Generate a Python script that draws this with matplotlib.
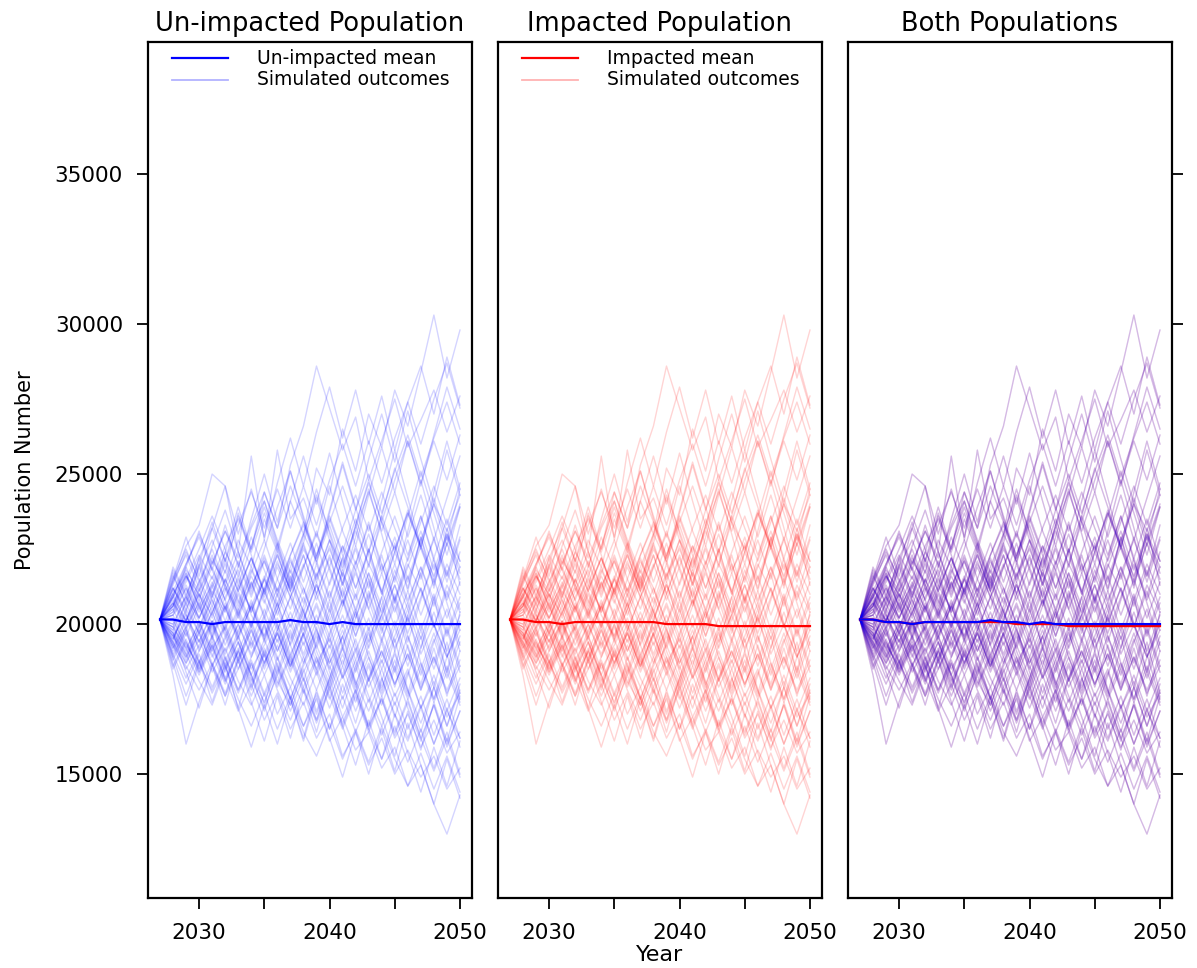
import numpy as np
import matplotlib.pyplot as plt

plt.rcParams['font.family'] = ['DejaVu Sans']

years = np.arange(2027, 2051)

# mean population per year
unimpacted_mean = [20157, 20150, 20067, 20067, 20000, 20067, 20067, 20067, 20067, 20067,
                   20133, 20067, 20067, 20000, 20067, 20000, 20000, 20000, 20000, 20000,
                   20000, 20000, 20000, 20000]
impacted_mean = [20157, 20150, 20067, 20067, 20000, 20067, 20067, 20067, 20067, 20067,
                 20067, 20067, 20000, 20000, 20000, 20000, 19933, 19933, 19933, 19933,
                 19933, 19933, 19933, 19933]

# simulated runs, population in thousands, 2027..2050
runs_k = [
    [20.15, 21.4, 22.6, 23.3, 25.0, 24.6, 22.4, 25.6, 22.8, 25.8, 23.5, 24.2, 22.9, 24.6, 23.1, 22.0, 23.4, 21.8, 22.6, 21.2, 22.9, 21.5, 23.0, 22.1],
    [20.15, 20.9, 21.6, 20.8, 22.1, 21.4, 22.8, 21.9, 23.5, 22.4, 24.1, 23.0, 25.2, 24.3, 26.5, 25.1, 27.0, 25.9, 27.8, 26.6, 28.4, 30.3, 28.2, 29.8],
    [20.15, 21.2, 20.4, 21.9, 22.8, 21.7, 23.6, 22.5, 24.4, 23.2, 25.3, 26.6, 28.6, 27.2, 25.8, 26.9, 24.8, 26.1, 27.5, 25.9, 26.8, 27.8, 26.4, 27.6],
    [20.15, 18.3, 16.0, 17.4, 18.6, 17.6, 18.9, 17.8, 19.2, 18.1, 17.3, 18.5, 17.1, 18.2, 16.9, 17.8, 16.6, 17.5, 16.2, 17.0, 15.9, 16.8, 15.7, 16.4],
    [20.15, 19.4, 18.7, 19.5, 18.4, 19.2, 18.1, 17.3, 18.3, 17.0, 17.9, 16.6, 17.5, 16.1, 16.9, 15.8, 16.4, 15.2, 15.9, 14.6, 15.3, 14.0, 13.0, 14.3],
    [20.15, 19.0, 19.8, 18.5, 19.4, 18.2, 17.1, 18.0, 16.8, 17.7, 16.5, 17.4, 16.2, 17.0, 15.6, 16.4, 15.3, 16.2, 15.0, 15.8, 14.9, 15.6, 14.5, 15.2],
    [20.15, 20.8, 19.9, 21.0, 20.3, 21.5, 20.6, 21.8, 20.9, 22.0, 21.2, 22.5, 21.6, 22.8, 21.9, 23.1, 22.0, 23.4, 22.5, 23.7, 22.6, 24.0, 23.1, 24.3],
    [20.15, 19.5, 20.4, 19.1, 20.0, 18.8, 19.6, 18.5, 19.3, 20.2, 19.0, 19.9, 18.7, 19.5, 18.2, 19.1, 17.9, 18.8, 17.6, 18.5, 17.2, 18.1, 16.9, 17.7],
    [20.15, 21.0, 21.8, 21.1, 22.2, 21.3, 20.5, 21.6, 20.7, 21.9, 20.9, 20.1, 21.3, 20.4, 21.7, 20.8, 22.0, 21.1, 22.4, 21.4, 22.6, 21.6, 22.9, 21.9],
    [20.15, 19.8, 18.9, 19.7, 18.6, 19.5, 20.4, 19.3, 20.3, 19.1, 20.0, 18.9, 19.8, 18.7, 19.6, 20.5, 19.4, 20.3, 19.2, 20.2, 19.0, 20.0, 18.9, 19.8],
    [20.15, 20.6, 21.4, 22.3, 21.5, 22.6, 23.5, 22.4, 23.7, 22.5, 21.4, 22.6, 21.5, 22.8, 21.6, 20.5, 21.7, 20.6, 21.8, 20.7, 21.9, 20.8, 22.0, 21.0],
    [20.15, 19.3, 18.6, 17.8, 18.7, 17.6, 18.5, 19.4, 18.3, 19.3, 18.2, 17.3, 18.4, 17.2, 18.3, 17.1, 18.2, 19.1, 18.0, 19.0, 17.8, 18.9, 17.7, 18.6],
    [20.15, 20.9, 20.1, 21.1, 22.0, 23.1, 22.2, 23.3, 24.4, 23.2, 24.6, 23.4, 22.3, 23.6, 22.4, 23.8, 25.0, 23.7, 25.1, 26.3, 24.9, 26.2, 27.4, 26.0],
    [20.15, 19.1, 19.9, 18.8, 17.7, 18.6, 17.5, 16.6, 17.7, 16.5, 17.6, 16.4, 15.6, 16.7, 15.5, 16.5, 15.4, 16.6, 15.5, 14.6, 15.7, 14.5, 15.6, 14.4],
    [20.15, 20.5, 21.3, 20.4, 21.4, 20.5, 19.6, 20.6, 19.5, 20.5, 21.5, 20.4, 21.6, 22.5, 21.4, 22.6, 21.5, 20.4, 21.6, 20.5, 21.7, 22.8, 21.6, 22.9],
    [20.15, 19.6, 20.3, 19.4, 20.4, 21.2, 20.2, 21.3, 22.1, 21.0, 19.9, 20.9, 19.8, 18.7, 19.8, 18.6, 19.7, 18.5, 19.6, 20.7, 19.5, 20.8, 19.6, 20.7],
    [20.15, 21.3, 22.4, 21.5, 20.6, 21.8, 20.7, 21.9, 20.8, 19.8, 20.9, 21.9, 23.0, 21.9, 23.2, 24.3, 23.1, 24.4, 23.2, 22.1, 23.4, 24.6, 23.3, 24.7],
    [20.15, 18.9, 19.8, 18.7, 19.6, 18.5, 19.4, 18.3, 17.4, 18.5, 17.3, 18.4, 19.3, 18.2, 19.3, 18.1, 17.1, 18.2, 17.0, 16.1, 17.2, 16.0, 17.1, 16.2],
    [20.15, 20.7, 19.8, 20.8, 19.7, 20.7, 19.6, 20.6, 21.6, 20.5, 21.6, 20.4, 19.3, 20.5, 19.3, 20.4, 19.2, 20.3, 21.3, 20.1, 21.2, 20.0, 18.9, 20.0],
    [20.15, 21.6, 20.7, 21.9, 20.8, 19.8, 21.0, 19.9, 21.1, 20.0, 18.9, 20.1, 18.9, 17.9, 19.0, 17.8, 18.9, 17.7, 18.8, 17.6, 18.7, 17.5, 18.6, 17.4],
    [20.15, 19.2, 20.1, 21.0, 20.0, 21.1, 22.1, 21.0, 22.2, 21.1, 22.3, 23.4, 22.2, 23.5, 22.3, 21.2, 22.4, 23.6, 22.4, 23.7, 22.5, 21.4, 22.7, 21.5],
    [20.15, 20.3, 19.4, 18.5, 19.5, 18.4, 19.4, 18.2, 17.2, 18.3, 17.1, 18.2, 17.0, 18.1, 19.2, 18.0, 19.1, 17.9, 19.0, 17.8, 16.7, 17.9, 16.6, 17.8],
    [20.15, 21.1, 22.0, 23.0, 22.0, 23.1, 22.0, 20.9, 22.1, 20.9, 22.2, 21.0, 22.3, 23.4, 24.6, 23.3, 24.7, 23.4, 24.8, 26.1, 24.7, 26.1, 24.8, 26.3],
    [20.15, 19.7, 18.8, 19.8, 18.7, 17.7, 18.8, 17.6, 18.7, 19.7, 18.6, 19.7, 20.7, 19.6, 20.8, 19.6, 20.8, 19.5, 18.4, 19.6, 18.3, 19.5, 18.2, 19.4],
    [20.15, 20.4, 21.2, 20.2, 21.3, 20.1, 21.2, 22.2, 21.1, 22.3, 21.1, 22.3, 21.0, 19.9, 21.1, 19.8, 21.0, 19.7, 20.9, 19.6, 18.5, 19.7, 18.4, 19.6],
    [20.15, 19.4, 18.5, 19.3, 20.1, 19.1, 20.0, 19.0, 20.0, 18.9, 17.9, 18.9, 17.8, 18.9, 17.7, 18.8, 17.6, 16.6, 17.7, 16.5, 17.6, 16.3, 17.5, 16.2],
    [20.15, 21.8, 20.9, 22.2, 23.2, 22.1, 23.3, 24.4, 23.2, 24.5, 23.2, 24.6, 23.3, 24.8, 26.0, 24.6, 26.1, 24.7, 26.2, 27.4, 26.0, 27.5, 28.7, 27.2],
    [20.15, 20.0, 20.9, 19.9, 20.8, 19.7, 18.7, 19.8, 18.6, 19.7, 18.5, 19.6, 20.6, 19.4, 20.6, 21.7, 20.5, 21.7, 20.4, 21.6, 20.3, 21.5, 20.2, 21.4],
    [20.15, 18.6, 19.5, 18.4, 19.3, 18.1, 19.1, 20.1, 19.0, 20.0, 18.8, 17.7, 18.8, 17.6, 16.5, 17.6, 16.4, 17.5, 16.3, 17.4, 16.2, 17.3, 16.0, 17.1],
    [20.15, 20.6, 21.7, 20.6, 21.6, 20.5, 21.6, 20.4, 21.5, 22.7, 21.5, 22.7, 21.4, 22.6, 21.3, 22.5, 21.2, 22.4, 23.6, 22.3, 23.6, 22.2, 23.5, 22.1],
    [20.15, 19.9, 19.0, 19.9, 18.9, 19.9, 18.8, 19.8, 18.7, 19.7, 18.6, 19.7, 18.5, 17.5, 18.6, 17.4, 18.6, 17.3, 18.5, 17.2, 16.1, 17.3, 15.9, 17.1],
    [20.15, 20.9, 21.9, 20.9, 21.9, 20.8, 19.7, 20.8, 19.6, 20.7, 19.5, 20.6, 21.7, 20.5, 21.8, 20.4, 21.7, 20.3, 21.6, 22.8, 21.5, 22.9, 21.4, 22.8],
    [20.15, 19.5, 20.5, 21.4, 20.4, 21.5, 20.3, 21.4, 20.2, 19.1, 20.2, 19.0, 20.1, 18.9, 20.0, 18.8, 19.9, 18.7, 19.9, 18.6, 19.8, 18.5, 19.8, 18.4],
    [20.15, 20.2, 19.2, 18.3, 19.2, 18.1, 19.1, 18.0, 19.0, 17.9, 18.9, 17.8, 16.8, 17.9, 16.7, 17.8, 16.5, 15.5, 16.6, 15.4, 16.5, 15.2, 16.4, 15.0],
    [20.15, 21.5, 22.5, 21.4, 22.5, 21.3, 22.4, 21.2, 22.3, 21.1, 22.3, 23.3, 22.1, 23.3, 22.0, 23.2, 24.4, 23.1, 24.4, 22.9, 24.3, 22.8, 24.2, 25.6],
    [20.15, 18.8, 19.7, 18.7, 17.8, 18.8, 17.7, 18.7, 17.6, 18.6, 17.5, 18.6, 19.6, 18.5, 19.6, 18.4, 19.5, 20.6, 19.4, 20.5, 19.2, 20.4, 19.1, 20.3],
    [20.15, 20.5, 19.6, 20.6, 19.5, 20.5, 21.5, 20.4, 21.5, 20.3, 21.4, 20.2, 21.3, 20.1, 21.2, 19.9, 21.1, 19.8, 21.0, 19.7, 20.9, 22.0, 20.8, 21.9],
    [20.15, 19.3, 20.2, 19.2, 20.1, 19.0, 20.0, 18.9, 19.9, 18.8, 19.8, 18.7, 19.7, 18.6, 17.5, 18.6, 17.4, 18.5, 17.3, 18.4, 17.2, 18.3, 17.1, 18.2],
    [20.15, 21.0, 20.1, 21.2, 20.2, 21.3, 20.3, 21.4, 20.3, 21.5, 22.7, 21.4, 22.7, 21.3, 22.6, 21.2, 22.5, 21.1, 19.9, 21.1, 19.8, 21.0, 19.7, 20.9],
    [20.15, 20.0, 19.1, 20.1, 19.0, 18.0, 19.1, 17.9, 19.0, 17.8, 16.8, 17.9, 16.7, 17.8, 16.6, 17.7, 16.5, 17.6, 16.4, 17.5, 16.2, 15.1, 16.2, 14.9],
    [20.15, 20.7, 21.6, 20.6, 19.6, 20.6, 19.5, 20.6, 19.4, 20.5, 19.3, 20.4, 19.2, 20.3, 21.4, 20.2, 21.4, 20.1, 21.3, 20.0, 21.2, 19.9, 21.1, 19.8],
    [20.15, 19.6, 18.7, 19.7, 18.6, 19.6, 18.5, 19.5, 20.5, 19.4, 20.4, 19.3, 20.3, 19.2, 20.3, 19.1, 20.2, 18.9, 20.1, 18.8, 20.0, 18.7, 19.9, 18.6],
    [20.15, 21.9, 21.0, 22.0, 21.0, 22.1, 21.1, 22.2, 21.1, 22.3, 21.1, 22.3, 21.0, 22.2, 20.9, 22.1, 20.8, 22.0, 20.7, 21.9, 23.1, 21.8, 23.0, 21.7],
    [20.15, 19.0, 18.0, 19.0, 17.9, 18.9, 17.8, 18.8, 17.7, 18.7, 17.6, 16.6, 17.7, 16.5, 17.6, 16.4, 17.5, 16.3, 17.4, 16.2, 17.3, 16.0, 17.2, 15.9],
    [20.15, 20.3, 21.2, 20.2, 21.2, 22.2, 21.1, 22.2, 21.0, 22.1, 20.9, 22.0, 20.8, 21.9, 20.7, 21.8, 23.0, 21.7, 22.9, 21.5, 22.8, 24.0, 22.6, 23.9],
    [20.15, 19.8, 20.7, 19.7, 20.6, 19.6, 20.5, 19.5, 18.5, 19.5, 18.4, 19.4, 18.3, 19.3, 18.2, 19.2, 18.1, 19.1, 18.0, 19.0, 17.9, 18.9, 17.8, 18.8],
    [20.15, 21.2, 20.3, 19.4, 20.4, 19.3, 20.3, 19.2, 20.2, 21.2, 20.1, 21.2, 20.0, 21.1, 19.9, 21.0, 19.8, 20.9, 22.0, 20.8, 21.9, 20.6, 21.8, 20.5],
    [20.15, 18.5, 19.4, 18.4, 19.3, 18.2, 19.2, 18.1, 19.1, 18.0, 19.0, 17.9, 18.9, 17.8, 18.8, 17.7, 18.7, 17.6, 18.6, 17.5, 18.5, 17.4, 18.4, 17.3],
    [20.15, 21.5, 22.9, 21.6, 23.2, 24.6, 23.0, 24.5, 22.9, 24.7, 26.2, 24.6, 26.4, 27.9, 26.2, 27.8, 26.0, 27.6, 25.8, 27.4, 28.6, 27.0, 28.9, 27.3],
    [20.15, 20.6, 21.9, 23.1, 21.8, 23.3, 21.9, 23.5, 25.0, 23.4, 25.1, 23.5, 22.0, 23.7, 25.3, 23.8, 25.5, 27.0, 25.4, 27.1, 25.5, 24.0, 25.8, 24.3],
    [20.15, 21.7, 20.6, 22.0, 23.4, 22.1, 23.7, 22.3, 21.0, 22.6, 24.1, 25.6, 24.0, 25.7, 24.1, 22.6, 24.3, 25.9, 24.4, 26.1, 24.6, 26.3, 27.9, 26.5],
    [20.15, 19.4, 20.8, 22.2, 20.9, 22.4, 23.9, 22.5, 24.1, 22.7, 21.3, 22.9, 24.5, 23.0, 21.6, 23.3, 21.9, 23.6, 25.2, 23.9, 22.5, 24.2, 22.8, 24.5],
    [20.15, 18.9, 17.6, 18.8, 17.4, 18.7, 17.2, 15.9, 17.3, 16.0, 17.5, 16.1, 17.6, 16.2, 14.9, 16.4, 15.0, 16.5, 15.1, 16.7, 15.3, 14.0, 15.5, 14.2],
    [20.15, 19.7, 18.4, 17.2, 18.6, 17.3, 18.8, 17.4, 16.1, 17.6, 16.2, 17.8, 16.4, 18.0, 16.6, 15.3, 16.8, 15.5, 17.0, 15.7, 14.4, 15.9, 14.6, 16.1],
    [20.15, 18.7, 17.3, 18.7, 20.0, 18.6, 17.2, 18.7, 17.3, 18.9, 17.5, 16.2, 17.8, 16.5, 18.0, 16.7, 18.2, 16.9, 15.6, 17.1, 15.8, 17.4, 16.1, 17.6],
    [20.15, 20.4, 21.6, 21.0, 19.8, 20.9, 21.8, 20.3, 19.6, 21.0, 22.1, 21.2, 20.0, 21.4, 22.6, 21.8, 20.5, 19.4, 20.8, 22.0, 21.1, 19.9, 21.3, 20.4],
    [20.15, 19.9, 21.0, 20.1, 19.2, 19.9, 21.1, 20.0, 18.9, 19.8, 20.9, 19.6, 18.5, 19.7, 20.8, 19.3, 18.2, 19.5, 20.6, 19.2, 18.0, 19.4, 20.5, 19.1],
    [20.15, 21.0, 21.7, 20.5, 21.3, 22.4, 21.6, 22.9, 21.8, 20.7, 21.9, 23.0, 22.1, 20.9, 22.2, 23.5, 22.3, 21.0, 22.4, 23.8, 22.6, 21.3, 22.7, 24.0],
    [20.15, 19.2, 19.9, 20.7, 19.6, 18.6, 19.8, 20.7, 19.5, 18.3, 19.4, 20.5, 19.1, 18.0, 19.2, 20.4, 18.9, 17.8, 19.1, 20.3, 18.7, 17.5, 18.9, 20.1],
    [20.15, 20.7, 20.1, 21.4, 22.3, 21.2, 20.4, 21.7, 22.8, 21.5, 20.5, 21.9, 23.1, 21.8, 20.6, 22.0, 23.3, 22.0, 20.8, 22.2, 23.6, 22.1, 20.9, 22.4],
    [20.15, 19.6, 18.9, 19.9, 21.0, 19.8, 18.8, 20.0, 21.2, 19.9, 18.7, 20.1, 21.4, 19.9, 18.6, 20.2, 21.5, 19.9, 18.5, 20.3, 21.7, 20.0, 18.4, 20.4],
    [20.15, 20.9, 22.0, 22.9, 21.8, 20.8, 21.9, 23.2, 24.1, 22.8, 21.7, 23.0, 24.3, 23.1, 21.8, 23.3, 24.8, 23.4, 22.0, 23.6, 25.1, 23.7, 22.3, 23.9],
    [20.15, 19.3, 18.2, 19.1, 20.1, 18.9, 17.8, 18.9, 20.0, 18.6, 17.5, 18.7, 19.9, 18.4, 17.2, 18.5, 19.8, 18.2, 16.9, 18.3, 19.6, 17.9, 16.6, 18.0],
    [20.15, 21.2, 20.5, 19.7, 20.9, 22.0, 20.8, 19.9, 21.2, 22.4, 21.1, 19.8, 21.0, 22.3, 20.9, 19.6, 20.9, 22.3, 20.8, 19.4, 20.8, 22.2, 20.7, 19.3],
    [20.15, 20.1, 19.3, 18.6, 19.6, 20.6, 19.4, 18.3, 19.5, 20.7, 19.3, 18.1, 19.4, 20.8, 19.2, 17.9, 19.3, 20.9, 19.1, 17.7, 19.2, 20.9, 19.0, 17.5],
    [20.15, 20.6, 21.5, 22.5, 23.6, 22.5, 21.3, 22.6, 23.9, 22.6, 21.2, 22.7, 24.2, 22.8, 21.3, 22.9, 24.5, 23.0, 21.4, 23.1, 24.8, 23.2, 21.6, 23.3],
    [20.15, 19.7, 19.0, 18.1, 17.3, 18.5, 19.6, 18.3, 17.1, 18.4, 19.7, 18.2, 16.8, 18.2, 19.6, 18.0, 16.6, 18.1, 19.5, 17.8, 16.4, 17.9, 19.4, 17.7],
    [20.15, 20.3, 20.9, 20.2, 21.1, 20.4, 21.3, 20.5, 21.5, 20.6, 21.8, 20.7, 22.0, 20.8, 22.2, 20.9, 22.5, 21.0, 22.7, 21.1, 22.9, 21.2, 23.2, 21.3],
    [20.15, 19.9, 19.2, 20.0, 19.1, 20.0, 18.9, 19.9, 18.7, 19.8, 18.6, 19.7, 18.4, 19.6, 18.3, 19.5, 18.1, 19.4, 17.9, 19.3, 17.8, 19.2, 17.6, 19.1],
    [20.15, 21.4, 22.3, 21.2, 22.6, 23.8, 22.4, 21.1, 22.5, 23.9, 25.1, 23.6, 22.2, 23.8, 25.4, 23.9, 22.4, 24.1, 25.8, 24.2, 22.6, 24.4, 26.1, 24.5],
]
runs = np.array(runs_k) * 1000

titles = ['Un-impacted Population', 'Impacted Population', 'Both Populations']

fig = plt.figure(figsize=(11.97, 9.68), dpi=100)
lefts = [0.1236, 0.4160, 0.7084]
axes = [fig.add_axes([l, 0.0723, 0.2707, 0.8843]) for l in lefts]

alpha = 0.17
for i, ax in enumerate(axes):
    # red runs go underneath the blue ones in the combined panel
    if i in (1, 2):
        for r in runs:
            ax.plot(years, r, color='red', alpha=alpha if i == 1 else 0.12, lw=1)
    if i in (0, 2):
        for r in runs:
            ax.plot(years, r, color='blue', alpha=alpha, lw=1)
    if i in (1, 2):
        ax.plot(years, impacted_mean, color='red', lw=1.6)
    if i in (0, 2):
        ax.plot(years, unimpacted_mean, color='blue', lw=1.6)

    ax.set_xlim(2026.08, 2050.92)
    ax.set_ylim(10870, 39400)
    ax.set_xticks([2030, 2035, 2040, 2045, 2050])
    ax.set_xticklabels(['2030', '', '2040', '', '2050'])
    ax.set_title(titles[i], fontsize=18.5, pad=8)
    for s in ax.spines.values():
        s.set_linewidth(1.6)
    ax.tick_params(axis='both', direction='out', length=8, width=1.3,
                   labelsize=15.5, pad=10)
    ax.set_yticks([15000, 20000, 25000, 30000, 35000])
    if i == 0:
        ax.tick_params(axis='y', left=True, right=False, labelleft=True)
    elif i == 1:
        ax.tick_params(axis='y', left=False, right=False, labelleft=False)
    else:
        ax.tick_params(axis='y', left=False, right=True, labelleft=False,
                       labelright=False)

# key inside the first two panels, text clipped at the frame
keys = [('blue', 'Un-impacted mean'), ('red', 'Impacted mean')]
for ax, (c, name) in zip(axes[:2], keys):
    ax.plot([0.074, 0.247], [0.981, 0.981], transform=ax.transAxes, color=c, lw=1.6)
    ax.plot([0.074, 0.247], [0.956, 0.956], transform=ax.transAxes, color=c,
            alpha=0.3, lw=1.3)
    ax.text(0.336, 0.981, name, transform=ax.transAxes, va='center',
            fontsize=13.5, clip_on=True)
    ax.text(0.336, 0.956, 'Simulated outcomes', transform=ax.transAxes,
            va='center', fontsize=13.5, clip_on=True)

axes[0].set_ylabel('Population Number', fontsize=15, labelpad=14)
fig.text(0.5514, 0.007, 'Year', ha='center', va='baseline', fontsize=16)

fig.savefig('out.png', dpi=100)
